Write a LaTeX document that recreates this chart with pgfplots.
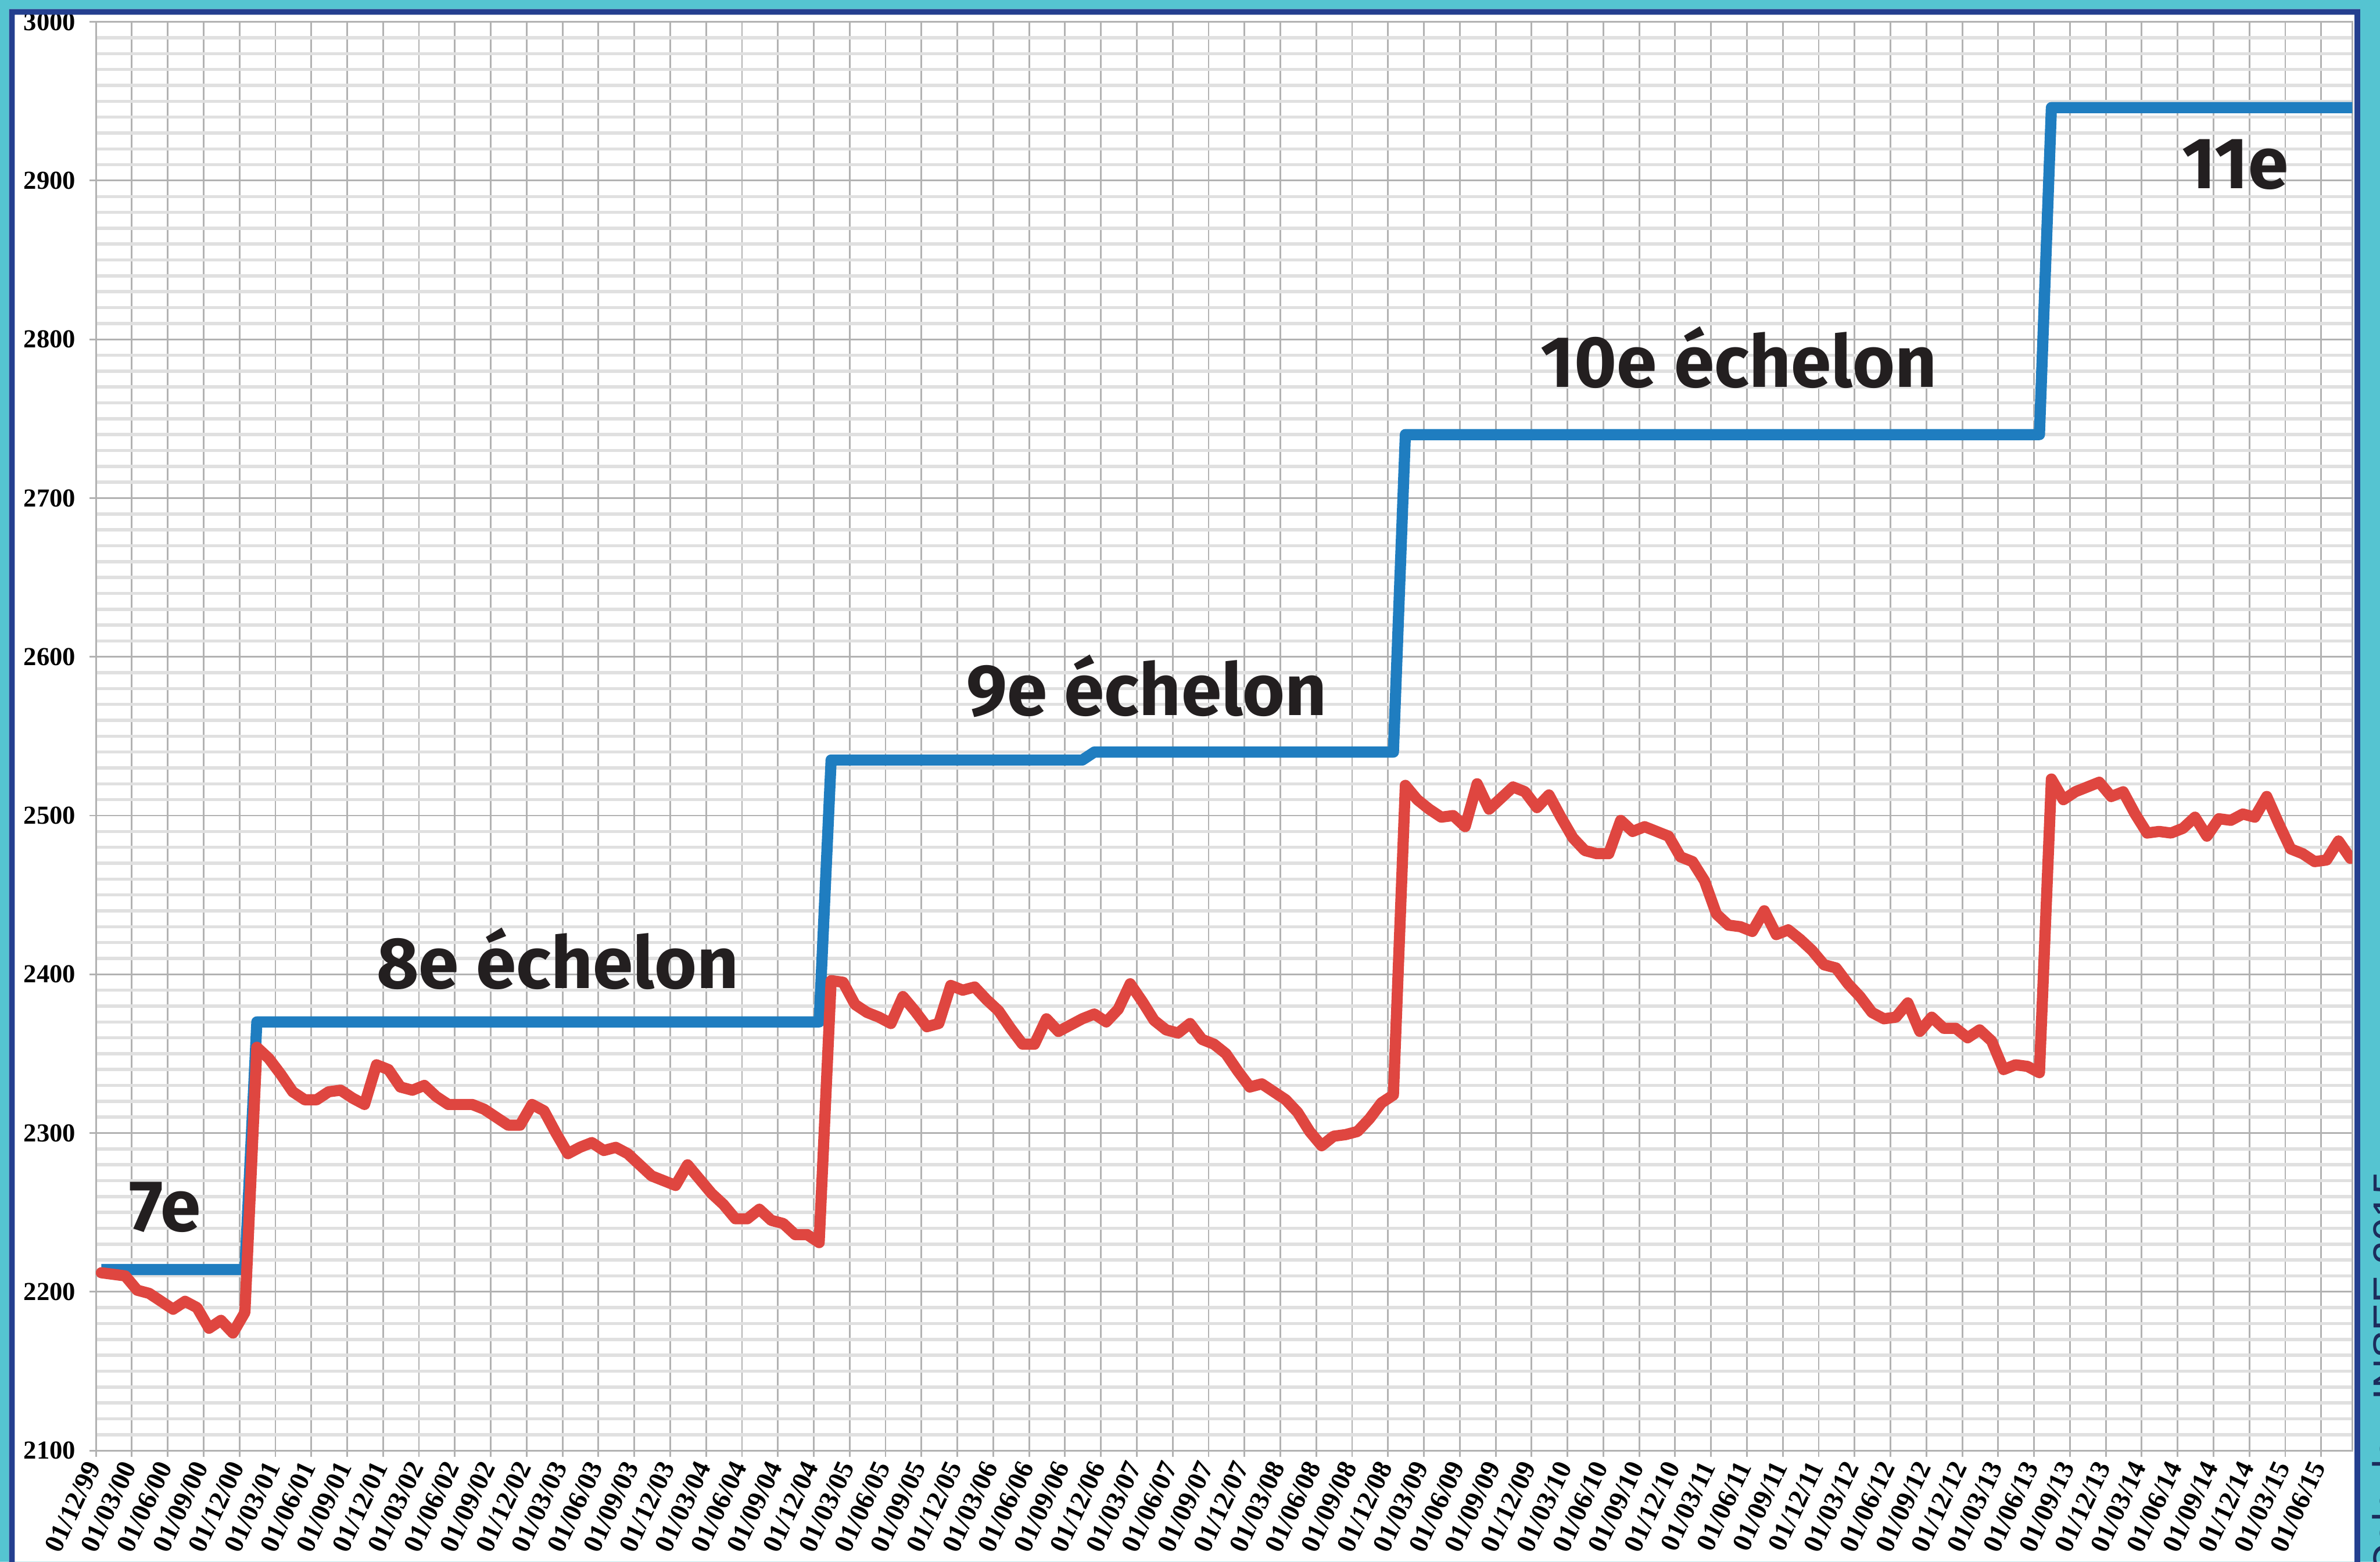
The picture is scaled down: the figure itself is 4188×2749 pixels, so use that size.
\documentclass[border=0pt]{standalone}
\usepackage{pgfplots}
\pgfplotsset{compat=1.18}
\usepackage{fontspec}
\setmainfont{Liberation Serif}
\newfontfamily\fira{Fira Sans}
\newfontfamily\libsans{Liberation Sans}
\definecolor{bgcyan}{HTML}{55C4D1}
\definecolor{frameblue}{HTML}{243F8F}
\definecolor{stepblue}{HTML}{1F7DC0}
\definecolor{linered}{HTML}{DF4640}
\definecolor{inkblack}{HTML}{231F20}
\definecolor{srcblue}{HTML}{1C2C5C}

\pgfplotstableread{
x v
0.45 2214
12.45 2214
13.45 2370
60.45 2370
61.45 2535
82.45 2535
83.45 2540
108.45 2540
109.45 2740
162.45 2740
163.45 2946
190 2946
}\echelon

\pgfplotstableread{
x v
0.45 2212
1.45 2211
2.45 2210
3.45 2201
4.45 2199
5.45 2194
6.45 2189
7.45 2194
8.45 2190
9.45 2177
10.45 2182
11.45 2174
12.45 2187
13.45 2354
14.45 2347
15.45 2337
16.45 2326
17.45 2321
18.45 2321
19.45 2326
20.45 2327
21.45 2322
22.45 2318
23.45 2343
24.45 2340
25.45 2329
26.45 2327
27.45 2330
28.45 2323
29.45 2318
30.45 2318
31.45 2318
32.45 2315
33.45 2310
34.45 2305
35.45 2305
36.45 2318
37.45 2314
38.45 2300
39.45 2287
40.45 2291
41.45 2294
42.45 2289
43.45 2291
44.45 2287
45.45 2280
46.45 2273
47.45 2270
48.45 2267
49.45 2280
50.45 2271
51.45 2262
52.45 2255
53.45 2246
54.45 2246
55.45 2252
56.45 2245
57.45 2243
58.45 2236
59.45 2236
60.45 2231
61.45 2396
62.45 2395
63.45 2381
64.45 2376
65.45 2373
66.45 2369
67.45 2386
68.45 2377
69.45 2367
70.45 2369
71.45 2393
72.45 2390
73.45 2392
74.45 2384
75.45 2377
76.45 2366
77.45 2356
78.45 2356
79.45 2372
80.45 2364
81.45 2368
82.45 2372
83.45 2375
84.45 2370
85.45 2378
86.45 2394
87.45 2383
88.45 2371
89.45 2365
90.45 2363
91.45 2369
92.45 2359
93.45 2356
94.45 2350
95.45 2339
96.45 2329
97.45 2331
98.45 2326
99.45 2321
100.45 2313
101.45 2301
102.45 2292
103.45 2298
104.45 2299
105.45 2301
106.45 2309
107.45 2319
108.45 2324
109.45 2519
110.45 2510
111.45 2504
112.45 2499
113.45 2500
114.45 2493
115.45 2520
116.45 2504
117.45 2511
118.45 2518
119.45 2515
120.45 2505
121.45 2513
122.45 2499
123.45 2486
124.45 2478
125.45 2476
126.45 2476
127.45 2497
128.45 2490
129.45 2493
130.45 2490
131.45 2487
132.45 2474
133.45 2471
134.45 2459
135.45 2438
136.45 2431
137.45 2430
138.45 2427
139.45 2440
140.45 2425
141.45 2428
142.45 2422
143.45 2415
144.45 2406
145.45 2404
146.45 2394
147.45 2386
148.45 2376
149.45 2372
150.45 2373
151.45 2382
152.45 2364
153.45 2373
154.45 2366
155.45 2366
156.45 2360
157.45 2365
158.45 2358
159.45 2340
160.45 2343
161.45 2342
162.45 2338
163.45 2523
164.45 2510
165.45 2515
166.45 2518
167.45 2521
168.45 2512
169.45 2515
170.45 2501
171.45 2489
172.45 2490
173.45 2489
174.45 2492
175.45 2499
176.45 2487
177.45 2498
178.45 2497
179.45 2501
180.45 2499
181.45 2512
182.45 2495
183.45 2479
184.45 2476
185.45 2471
186.45 2472
187.45 2484
188.45 2473
}\salaire

\begin{document}
\begin{tikzpicture}[x=0.005cm,y=0.005cm]
\useasboundingbox (0,0) rectangle (4188,2749);
\clip (0,0) rectangle (4188,2749);
\fill[white] (0,0) rectangle (4188,2749);
\begin{axis}[
  at={(0.845cm,0.98cm)}, anchor=south west,
  width=19.87cm, height=12.585cm, scale only axis,
  xmin=0, xmax=188.6, ymin=2100, ymax=3000,
  xtick={0,3,...,186},
  xticklabels={01/12/99,
    01/03/00,01/06/00,01/09/00,01/12/00,
    01/03/01,01/06/01,01/09/01,01/12/01,
    01/03/02,01/06/02,01/09/02,01/12/02,
    01/03/03,01/06/03,01/09/03,01/12/03,
    01/03/04,01/06/04,01/09/04,01/12/04,
    01/03/05,01/06/05,01/09/05,01/12/05,
    01/03/06,01/06/06,01/09/06,01/12/06,
    01/03/07,01/06/07,01/09/07,01/12/07,
    01/03/08,01/06/08,01/09/08,01/12/08,
    01/03/09,01/06/09,01/09/09,01/12/09,
    01/03/10,01/06/10,01/09/10,01/12/10,
    01/03/11,01/06/11,01/09/11,01/12/11,
    01/03/12,01/06/12,01/09/12,01/12/12,
    01/03/13,01/06/13,01/09/13,01/12/13,
    01/03/14,01/06/14,01/09/14,01/12/14,
    01/03/15,01/06/15},
  ytick={2100,2200,...,3000},
  minor y tick num=9,
  xmajorgrids=true, ymajorgrids=true, yminorgrids=true,
  major grid style={draw=gray!60, line width=0.42pt},
  minor grid style={draw=gray!24, line width=0.8pt},
  axis line style={draw=gray!60, line width=0.42pt},
  tick align=outside,
  xtick pos=lower, ytick pos=left,
  major tick length=0.055cm,
  minor tick length=0pt,
  tick style={draw=gray!60, line width=0.42pt},
  /pgf/number format/assume math mode=true,
  /pgf/number format/1000 sep={},
  yticklabel style={font=\fontsize{6.5}{7.5}\selectfont\bfseries, text=black},
  xticklabel style={font=\fontsize{6.8}{7.5}\selectfont\bfseries, text=black, rotate=65, anchor=east, inner sep=1.5pt},
  clip=true,
]
\addplot[stepblue, line width=2.8pt, line join=round] table[x=x, y=v] {\echelon};
\addplot[linered, line width=2.8pt, line join=round, line cap=round] table[x=x, y=v] {\salaire};
\node[anchor=base west, inner sep=0pt, font=\fira\bfseries\fontsize{18.2}{20}\selectfont, text=inkblack] at (axis cs:2.7,2238) {7e};
\node[anchor=base west, inner sep=0pt, font=\fira\bfseries\fontsize{18.2}{20}\selectfont, text=inkblack] at (axis cs:23.4,2391) {8e échelon};
\node[anchor=base west, inner sep=0pt, font=\fira\bfseries\fontsize{18.2}{20}\selectfont, text=inkblack] at (axis cs:72.7,2563) {9e échelon};
\node[anchor=base west, inner sep=0pt, font=\fira\bfseries\fontsize{18.2}{20}\selectfont, text=inkblack] at (axis cs:120.7,2770) {10e échelon};
\node[anchor=base west, inner sep=0pt, font=\fira\bfseries\fontsize{18.2}{20}\selectfont, text=inkblack] at (axis cs:174.3,2895) {11e};
\end{axis}
\fill[bgcyan, even odd rule] (0,0) rectangle (4188,2749) (16,-20) rectangle (4153,2733);
\fill[frameblue, even odd rule] (16,-20) rectangle (4153,2733) (26,-20) rectangle (4143,2723);
\node[rotate=90, anchor=base east, inner sep=0pt, font=\libsans\fontsize{10.4}{12}\selectfont, text=srcblue] at (4227,688) {Calculs : INSEE 2015};
\end{tikzpicture}
\end{document}
